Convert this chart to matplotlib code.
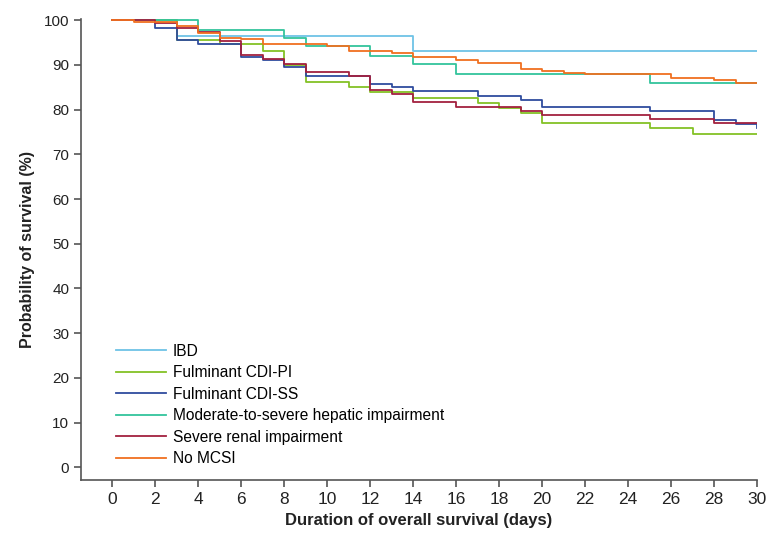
import matplotlib
matplotlib.use("Agg")
import matplotlib.pyplot as plt

# Kaplan-Meier step data: event days and survival (%) after each step
labels = [
    "IBD",
    "Fulminant CDI-PI",
    "Fulminant CDI-SS",
    "Moderate-to-severe hepatic impairment",
    "Severe renal impairment",
    "No MCSI",
]
colors = ["#6ec3e6", "#84c225", "#2f4c9e", "#33c49c", "#a3213f", "#f07020"]

days_ibd = [0, 3, 14, 30]
surv_ibd = [100, 96.5, 93.1, 93.1]

days_pi = [0, 3, 5, 7, 8, 9, 11, 12, 14, 17, 18, 19, 20, 25, 27, 30]
surv_pi = [100, 95.5, 94.6, 93.1, 89.9, 86.2, 85.1, 84.0, 82.7, 81.5, 80.4,
           79.3, 76.9, 75.8, 74.5, 74.5]

days_ss = [0, 2, 3, 4, 6, 7, 8, 9, 12, 13, 14, 17, 19, 20, 25, 28, 29, 30]
surv_ss = [100, 98.2, 95.5, 94.7, 91.8, 91.2, 89.6, 87.5, 85.8, 85.0, 84.1,
           83.1, 82.2, 80.5, 79.6, 77.7, 76.7, 76.0]

days_hep = [0, 4, 8, 9, 12, 14, 16, 25, 30]
surv_hep = [100, 97.9, 96.0, 94.3, 92.0, 90.2, 88.0, 85.9, 85.9]

days_ren = [0, 2, 3, 4, 5, 6, 7, 8, 9, 11, 12, 13, 14, 16, 19, 20, 25, 28, 30]
surv_ren = [100, 99.3, 98.3, 97.4, 95.4, 92.2, 91.4, 90.3, 88.4, 87.6, 84.4,
            83.6, 81.7, 80.6, 79.6, 78.7, 77.8, 76.9, 76.9]

days_no = [0, 1, 3, 4, 5, 6, 7, 10, 11, 13, 14, 16, 17, 19, 20, 21, 22, 26,
           28, 29, 30]
surv_no = [100, 99.6, 98.7, 97.2, 96.0, 95.7, 94.6, 94.2, 93.2, 92.6, 91.7,
           91.0, 90.4, 89.1, 88.6, 88.3, 88.0, 87.1, 86.7, 86.0, 86.0]

x_ticks = list(range(0, 31, 2))
y_ticks = list(range(0, 101, 10))

series = [
    (days_ibd, surv_ibd),
    (days_pi, surv_pi),
    (days_ss, surv_ss),
    (days_hep, surv_hep),
    (days_ren, surv_ren),
    (days_no, surv_no),
]

plt.rcParams["font.family"] = ["Liberation Sans", "DejaVu Sans"]

fig = plt.figure(figsize=(7.79, 5.39), dpi=100)
ax = fig.add_axes([0.104, 0.109, 0.868, 0.856])

for (d, s), lab, c in zip(series, labels, colors):
    ax.step(d, s, where="post", color=c, lw=1.3, label=lab)

ax.set_xlim(-1.45, 30)
ax.set_ylim(-2.9, 100.3)
ax.set_xticks(x_ticks)
ax.set_yticks(y_ticks)

for side in ["top", "right"]:
    ax.spines[side].set_visible(False)
for side in ["left", "bottom"]:
    ax.spines[side].set_color("#555555")
    ax.spines[side].set_linewidth(1.2)

ax.tick_params(colors="#555555", length=5, width=1.2, labelcolor="#222222")
ax.tick_params(axis="y", labelsize=11)
ax.tick_params(axis="x", labelsize=12.5)

ax.set_xlabel("Duration of overall survival (days)", fontsize=12,
              fontweight="bold", labelpad=4, color="#222222")
ax.set_ylabel("Probability of survival (%)", fontsize=11.5,
              fontweight="bold", labelpad=6, color="#222222")

ax.legend(loc="lower left", bbox_to_anchor=(0.052, 0.03), frameon=False,
          fontsize=11.2, handlelength=3.2, handletextpad=0.45,
          labelspacing=0.42, borderpad=0, borderaxespad=0)

fig.savefig("out.png", dpi=100)
